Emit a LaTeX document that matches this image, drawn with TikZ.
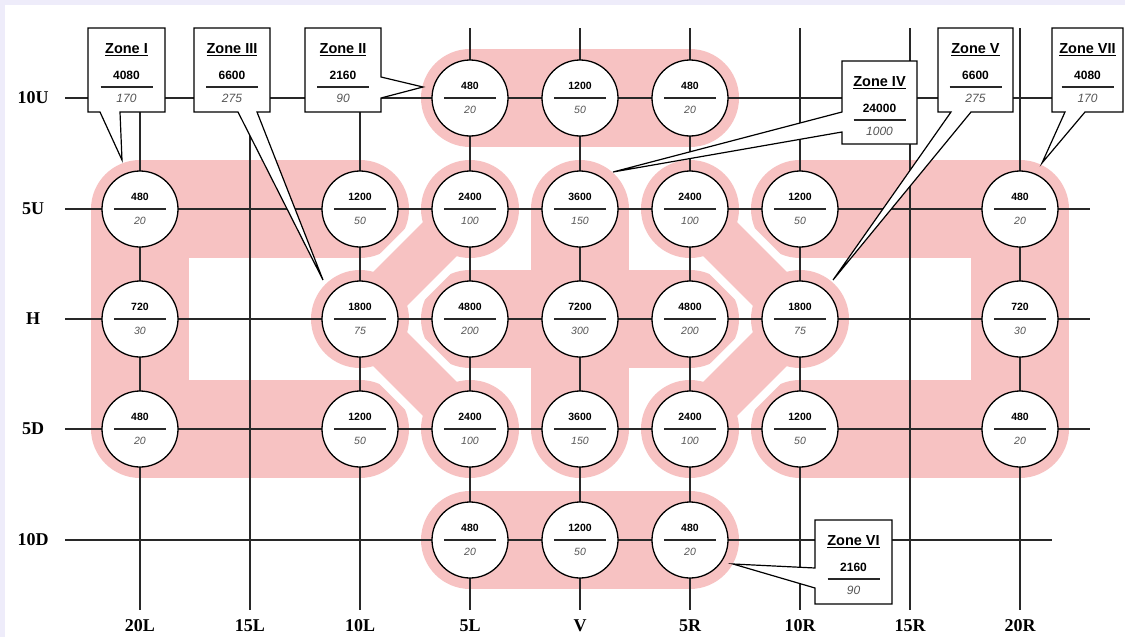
\documentclass[tikz,border=0pt]{standalone}
\usepackage{fontspec}
\setmainfont{Liberation Serif}
\newfontfamily\arialf{Liberation Sans}
\definecolor{zpink}{RGB}{247,194,194}
\definecolor{gridc}{RGB}{40,40,40}
\definecolor{italc}{RGB}{85,85,85}
\definecolor{wmark}{RGB}{238,236,250}
\tikzset{
  gridline/.style={draw=gridc, line width=1.3pt},
  zonefill/.style={draw=zpink, line width=98pt, line cap=round, line join=round},
  gapcut/.style={draw=white, line width=64pt, line cap=butt},
  linkband/.style={draw=zpink, line width=48pt, line cap=butt},
  halo/.style={fill=zpink},
  cellc/.style={circle, draw=black, fill=white, line width=1.3pt, minimum size=76pt, inner sep=0pt},
  cellrule/.style={draw=gridc, line width=1.1pt},
  topnum/.style={font=\arialf\bfseries\fontsize{10.5}{12}\selectfont, inner sep=0pt},
  botnum/.style={font=\arialf\itshape\fontsize{10.5}{12}\selectfont, text=italc, inner sep=0pt},
  callout/.style={draw=black, fill=white, line width=1.2pt, line join=miter},
  ztitle/.style={font=\arialf\bfseries\fontsize{14.5}{16}\selectfont, inner sep=0pt},
  znum/.style={font=\arialf\bfseries\fontsize{12}{14}\selectfont, inner sep=0pt},
  zsub/.style={font=\arialf\itshape\fontsize{12}{14}\selectfont, text=italc, inner sep=0pt},
  axislabel/.style={font=\bfseries\fontsize{18}{20}\selectfont, inner sep=0pt},
}
\newcommand\gridcell[5]{%
  \node[cellc] (#1) at (#2,#3) {};
  \draw[cellrule] ([xshift=-26pt]#1.center) -- ([xshift=26pt]#1.center);
  \node[topnum] (#1-t) at ([yshift=12pt]#1.center) {#4};
  \node[botnum] (#1-b) at ([yshift=-12pt]#1.center) {#5};
}
\newcommand\zonetext[6]{%
  \node[ztitle] (#1-title) at (#2,#3+22) {\underline{#4}};
  \node[znum] (#1-num) at (#2,#3+47) {#5};
  \coordinate (#1-rl) at (#2-26,#3+59);
  \coordinate (#1-rr) at (#2+26,#3+59);
  \draw[cellrule] (#1-rl) -- (#1-rr);
  \node[zsub] (#1-sub) at (#2,#3+70) {#6};
}
\begin{document}
\begin{tikzpicture}[x=1pt,y=-1pt]
\useasboundingbox (0,0) rectangle (1125,637);
\fill[white] (0,0) rectangle (1125,637);
\fill[wmark] (0,0) rectangle (1125,5);
\fill[wmark] (0,0) rectangle (5,637);

% zone fills
\draw[zonefill] (360,209) -- (140,209) -- (140,429) -- (360,429);   % Zone I
\draw[zonefill] (800,209) -- (1020,209) -- (1020,429) -- (800,429); % Zone VII
\draw[zonefill] (470,98) -- (690,98);    % Zone II
\draw[zonefill] (470,540) -- (690,540);  % Zone VI
\draw[zonefill] (470,319) -- (690,319);  % Zone IV
\draw[zonefill] (580,209) -- (580,429);
% white separations of the diagonal links
\draw[gapcut] (360,319) -- (470,209);
\draw[gapcut] (360,319) -- (470,429);
\draw[gapcut] (800,319) -- (690,209);
\draw[gapcut] (800,319) -- (690,429);
% Zone III and Zone V
\draw[linkband] (470,209) -- (360,319) -- (470,429);
\draw[linkband] (690,209) -- (800,319) -- (690,429);
\foreach \p in {(360,319),(470,209),(470,429),(800,319),(690,209),(690,429)}
  \fill[halo] \p circle[radius=49];

% grid
\foreach \r/\yy in {10U/98,5U/209,H/319,5D/429,10D/540}{
  \coordinate (row-\r-a) at (65,\yy);
  \coordinate (row-\r-b) at (1090,\yy);
}
\coordinate (row-10D-b) at (1052,540);
\foreach \r in {10U,5U,H,5D,10D}
  \draw[gridline] (row-\r-a) -- (row-\r-b);
\foreach \c/\xx in {20L/140,15L/250,10L/360,5L/470,V/580,5R/690,10R/800,15R/910,20R/1020}{
  \coordinate (col-\c-a) at (\xx,28);
  \coordinate (col-\c-b) at (\xx,610);
  \draw[gridline] (col-\c-a) -- (col-\c-b);
  \node[axislabel] (lab-\c) at (\xx,626) {\c};
}
\foreach \r/\yy in {10U/98,5U/209,H/319,5D/429,10D/540}
  \node[axislabel] (lab-\r) at (33,\yy) {\r};

% cells
\gridcell{u10-5L}{470}{98}{480}{20}
\gridcell{u10-V}{580}{98}{1200}{50}
\gridcell{u10-5R}{690}{98}{480}{20}

\gridcell{u5-20L}{140}{209}{480}{20}
\gridcell{u5-10L}{360}{209}{1200}{50}
\gridcell{u5-5L}{470}{209}{2400}{100}
\gridcell{u5-V}{580}{209}{3600}{150}
\gridcell{u5-5R}{690}{209}{2400}{100}
\gridcell{u5-10R}{800}{209}{1200}{50}
\gridcell{u5-20R}{1020}{209}{480}{20}

\gridcell{h-20L}{140}{319}{720}{30}
\gridcell{h-10L}{360}{319}{1800}{75}
\gridcell{h-5L}{470}{319}{4800}{200}
\gridcell{h-V}{580}{319}{7200}{300}
\gridcell{h-5R}{690}{319}{4800}{200}
\gridcell{h-10R}{800}{319}{1800}{75}
\gridcell{h-20R}{1020}{319}{720}{30}

\gridcell{d5-20L}{140}{429}{480}{20}
\gridcell{d5-10L}{360}{429}{1200}{50}
\gridcell{d5-5L}{470}{429}{2400}{100}
\gridcell{d5-V}{580}{429}{3600}{150}
\gridcell{d5-5R}{690}{429}{2400}{100}
\gridcell{d5-10R}{800}{429}{1200}{50}
\gridcell{d5-20R}{1020}{429}{480}{20}

\gridcell{d10-5L}{470}{540}{480}{20}
\gridcell{d10-V}{580}{540}{1200}{50}
\gridcell{d10-5R}{690}{540}{480}{20}

% callouts
\draw[callout] (88,28) -- (165,28) -- (165,112) -- (120,112) -- (122,160) -- (100,112) -- (88,112) -- cycle;
\zonetext{zI}{126.5}{28}{Zone I}{4080}{170}
\draw[callout] (194,28) -- (270,28) -- (270,112) -- (257,112) -- (323,280) -- (238,112) -- (194,112) -- cycle;
\zonetext{zIII}{232}{28}{Zone III}{6600}{275}
\draw[callout] (305,28) -- (381,28) -- (381,77) -- (423,87) -- (381,98) -- (381,112) -- (305,112) -- cycle;
\zonetext{zII}{343}{28}{Zone II}{2160}{90}
\draw[callout] (842,61) -- (917,61) -- (917,144) -- (842,144) -- (842,132) -- (613,172) -- (842,112) -- cycle;
\zonetext{zIV}{879.5}{61}{Zone IV}{24000}{1000}
\draw[callout] (938,28) -- (1013,28) -- (1013,112) -- (971,112) -- (833,280) -- (951,112) -- (938,112) -- cycle;
\zonetext{zV}{975.5}{28}{Zone V}{6600}{275}
\draw[callout] (1052,28) -- (1123,28) -- (1123,112) -- (1085,112) -- (1042,163) -- (1065,112) -- (1052,112) -- cycle;
\zonetext{zVII}{1087.5}{28}{Zone VII}{4080}{170}
\draw[callout] (815,520) -- (892,520) -- (892,604) -- (815,604) -- (815,588) -- (733,564) -- (815,568) -- cycle;
\zonetext{zVI}{853.5}{520}{Zone VI}{2160}{90}
\end{tikzpicture}
\end{document}
